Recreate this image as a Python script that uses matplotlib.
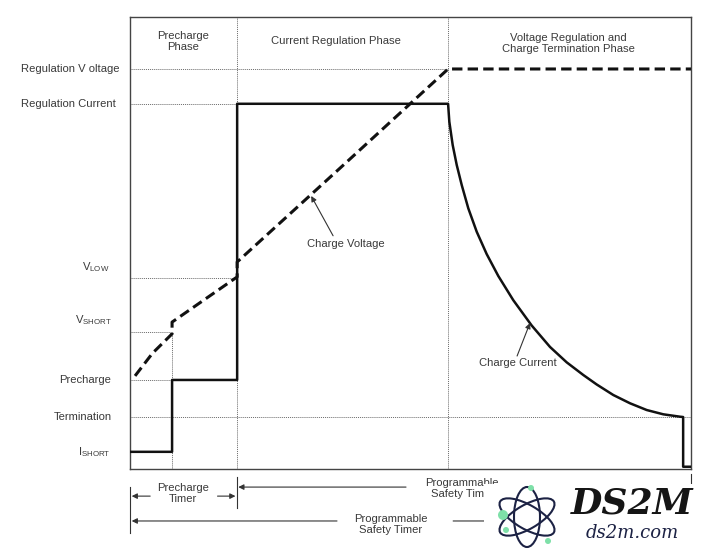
import matplotlib
matplotlib.use("Agg")
import matplotlib.pyplot as plt
from matplotlib.patches import Rectangle, Ellipse, Circle

plt.rcParams["font.family"] = ["Liberation Sans", "DejaVu Sans"]
FS = 8.1
TXT = "#3a3a3a"
GRID = "#6a6a6a"

# levels (relative units, 0..100 of the plot height)
REG_V = 88.5
REG_I = 80.8
V_LOW = 42.3
V_SHORT = 30.3
PRE = 19.7
TERM = 11.5
I_SHORT = 3.8

# phase boundaries (relative time, 0..100)
T_PRE = 7.5
T_CC = 19.1
T_CV = 56.7
T_END = 98.6

# charge current
cur_t = [0, T_PRE, T_PRE, T_CC, T_CC, T_CV,
         56.92, 57.52, 58.24, 59.13, 60.30, 61.80, 63.58, 65.65, 68.32, 71.60,
         74.87, 77.84, 80.80, 83.19, 86.15, 89.13, 92.10, 95.06, 98.04,
         T_END, T_END, 100]
cur_v = [I_SHORT, I_SHORT, PRE, PRE, REG_I, REG_I,
         76.84, 71.68, 67.26, 62.83, 57.68, 52.50, 47.55, 42.70, 37.35, 31.75,
         27.00, 23.60, 20.80, 18.70, 16.37, 14.54, 13.05, 12.10, 11.57,
         TERM, 0.5, 0.5]

# charge voltage
volt_t = [0.9, 4.0, T_PRE, T_PRE, T_CC, T_CC, 38.0, T_CV, 100]
volt_v = [20.6, 25.6, 29.9, 32.5, 42.5, 45.8, 67.2, REG_V, REG_V]

fig = plt.figure(figsize=(7.2, 5.53), dpi=100)
ax = fig.add_axes([130 / 720, 84 / 553, 561 / 720, 452 / 553])
ax.set_xlim(0, 100)
ax.set_ylim(0, 100)
ax.set_xticks([])
ax.set_yticks([])
for s in ax.spines.values():
    s.set_color("#444444")
    s.set_linewidth(1.0)

dot = dict(color=GRID, lw=0.7, ls=(0, (1, 1)), zorder=1)
ax.plot([0, T_CV], [REG_V, REG_V], **dot)
ax.plot([0, T_CC], [REG_I, REG_I], **dot)
ax.plot([0, T_CC], [V_LOW, V_LOW], **dot)
ax.plot([0, T_PRE], [V_SHORT, V_SHORT], **dot)
ax.plot([0, T_PRE], [PRE, PRE], **dot)
ax.plot([0, 100], [TERM, TERM], **dot)
ax.plot([T_CC, T_CC], [0, 100], **dot)
ax.plot([T_CV, T_CV], [0, 100], **dot)
ax.plot([T_PRE, T_PRE], [0, V_SHORT], **dot)

ax.plot(cur_t, cur_v, color="#111111", lw=1.8, zorder=3, solid_joinstyle="round")
ax.plot(volt_t, volt_v, color="#111111", lw=2.2, ls=(0, (3.4, 1.7)), zorder=3)

# phase headers
ax.text(9.4, 94.6, "Precharge\nPhase", ha="center", va="center", fontsize=FS, color=TXT, linespacing=1.1)
ax.text(36.7, 94.6, "Current Regulation Phase", ha="center", va="center", fontsize=FS, color=TXT)
ax.text(78.1, 94.2, "Voltage Regulation and\nCharge Termination Phase", ha="center", va="center",
        fontsize=FS, color=TXT, linespacing=1.1)

# level labels
lab = dict(ha="right", va="center", fontsize=FS, color=TXT, clip_on=False)
ax.text(-1.8, REG_V, "Regulation V oltage", **lab)
ax.text(-2.5, REG_I, "Regulation Current", **lab)
ax.text(-3.6, 44.6, r"V$_{\mathregular{LOW}}$", **lab)
ax.text(-3.3, 33.0, r"V$_{\mathregular{SHORT}}$", **lab)
ax.text(-3.4, PRE, "Precharge", **lab)
ax.text(-3.2, TERM, "Termination", **lab)
ax.text(-3.4, I_SHORT, r"I$_{\mathregular{SHORT}}$", **lab)

# curve annotations
arr = dict(arrowstyle="-|>", color="#333333", lw=0.8, mutation_scale=8, shrinkA=0, shrinkB=0)
ax.annotate("", xy=(32.3, 60.4), xytext=(36.2, 51.6), arrowprops=arr)
ax.text(38.5, 49.8, "Charge Voltage", ha="center", va="center", fontsize=FS, color=TXT)
ax.annotate("", xy=(71.3, 32.3), xytext=(69.0, 25.0), arrowprops=arr)
ax.text(69.2, 23.4, "Charge Current", ha="center", va="center", fontsize=FS, color=TXT)

# timers below the plot
tl = dict(color="#333333", lw=0.8, clip_on=False)
ax.plot([0, 0], [-4.0, -14.2], **tl)
ax.plot([T_CC, T_CC], [-1.8, -8.6], **tl)
ax.plot([100, 100], [-1.2, -3.8], **tl)
ax.annotate("", xy=(0.3, -6.0), xytext=(3.6, -6.0), arrowprops=arr, annotation_clip=False)
ax.annotate("", xy=(18.8, -6.0), xytext=(15.6, -6.0), arrowprops=arr, annotation_clip=False)
ax.text(9.4, -5.4, "Precharge\nTimer", ha="center", va="center", fontsize=FS, color=TXT, linespacing=1.1)

ax.annotate("", xy=(T_CC + 0.2, -4.0), xytext=(49.2, -4.0), arrowprops=arr, annotation_clip=False)
ax.annotate("", xy=(99.8, -4.0), xytext=(67.0, -4.0), arrowprops=arr, annotation_clip=False)
ax.text(59.2, -4.3, "Programmable\nSafety Timer", ha="center", va="center", fontsize=FS, color=TXT,
        linespacing=1.1)

ax.annotate("", xy=(0.3, -11.5), xytext=(36.9, -11.5), arrowprops=arr, annotation_clip=False)
ax.annotate("", xy=(99.8, -11.5), xytext=(57.6, -11.5), arrowprops=arr, annotation_clip=False)
ax.text(46.5, -12.3, "Programmable\nSafety Timer", ha="center", va="center", fontsize=FS, color=TXT,
        linespacing=1.1)

# watermark
fig.patches.append(Rectangle((484 / 720, 3 / 553), 236 / 720, 66 / 553, transform=fig.transFigure,
                             facecolor="white", edgecolor="none", zorder=5))
navy = "#1c2244"
for ang, w, h in ((30, 0.62, 0.24), (90, 0.60, 0.26), (150, 0.62, 0.24)):
    fig.patches.append(Ellipse((5.27, 0.36), w, h, angle=ang, transform=fig.dpi_scale_trans,
                               fill=False, edgecolor=navy, lw=1.5, zorder=6))
for cx, cy, r in ((5.03, 0.38, 0.05), (5.06, 0.23, 0.03), (5.31, 0.65, 0.03), (5.48, 0.12, 0.03)):
    fig.patches.append(Circle((cx, cy), r, transform=fig.dpi_scale_trans,
                              facecolor="#7ee0a8", edgecolor="none", zorder=7))
fig.text(632 / 720, 1 - 503 / 553, "DS2M", ha="center", va="center", fontsize=26, fontweight="bold",
         fontstyle="italic", family="DejaVu Serif", color="#151515", zorder=8)
fig.text(632 / 720, 1 - 533 / 553, "ds2m.com", ha="center", va="center", fontsize=13,
         fontstyle="italic", family="DejaVu Serif", color=navy, zorder=8)

fig.savefig("out.png", dpi=100, facecolor="white")
